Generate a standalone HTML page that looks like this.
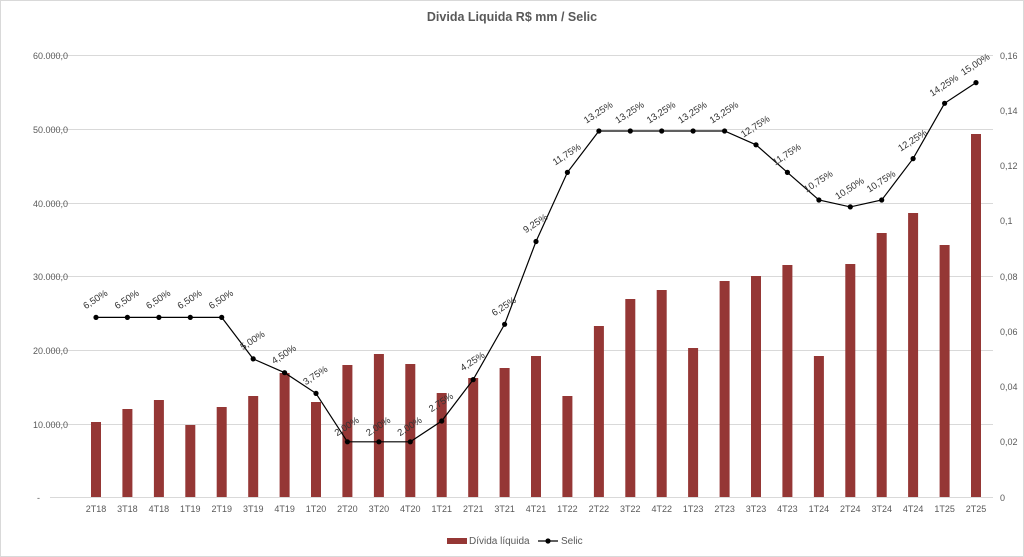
<!DOCTYPE html>
<html><head><meta charset="utf-8"><style>
body{margin:0;background:#fff}
svg{display:block;font-family:"Liberation Sans",sans-serif}
.ax{font-size:9px;fill:#595959}
.lb{font-size:9.5px;fill:#333}
</style></head><body>
<svg width="1024" height="557" viewBox="0 0 1024 557">
<rect x="0.5" y="0.5" width="1023" height="556" fill="#fff" stroke="#d9d9d9"/>
<text x="512" y="21" text-anchor="middle" font-size="12.5" font-weight="bold" fill="#595959">Divida Liquida R$ mm / Selic</text>
<g stroke="#d9d9d9" stroke-width="1">
<line x1="50" x2="993" y1="55.5" y2="55.5"/><line x1="50" x2="993" y1="129.5" y2="129.5"/><line x1="50" x2="993" y1="203.5" y2="203.5"/><line x1="50" x2="993" y1="276.5" y2="276.5"/><line x1="50" x2="993" y1="350.5" y2="350.5"/><line x1="50" x2="993" y1="424.5" y2="424.5"/><line x1="50" x2="993" y1="497.5" y2="497.5"/>
</g>
<g class="ax" text-anchor="end">
<text x="68" y="59">60.000,0</text><text x="68" y="133">50.000,0</text><text x="68" y="207">40.000,0</text><text x="68" y="280">30.000,0</text><text x="68" y="354">20.000,0</text><text x="68" y="428">10.000,0</text><text x="40" y="501">-</text>
</g>
<g class="ax">
<text x="1000" y="59">0,16</text><text x="1000" y="114">0,14</text><text x="1000" y="169">0,12</text><text x="1000" y="224">0,1</text><text x="1000" y="280">0,08</text><text x="1000" y="335">0,06</text><text x="1000" y="390">0,04</text><text x="1000" y="445">0,02</text><text x="1000" y="501">0</text>
</g>
<g fill="#953735">
<rect x="91" y="422" width="10" height="75"/>
<rect x="122.4" y="409" width="10" height="88"/>
<rect x="153.9" y="400" width="10" height="97"/>
<rect x="185.3" y="425" width="10" height="72"/>
<rect x="216.7" y="407" width="10" height="90"/>
<rect x="248.2" y="396" width="10" height="101"/>
<rect x="279.6" y="373" width="10" height="124"/>
<rect x="311" y="402" width="10" height="95"/>
<rect x="342.4" y="365" width="10" height="132"/>
<rect x="373.9" y="354" width="10" height="143"/>
<rect x="405.3" y="364" width="10" height="133"/>
<rect x="436.7" y="393" width="10" height="104"/>
<rect x="468.2" y="378" width="10" height="119"/>
<rect x="499.6" y="368" width="10" height="129"/>
<rect x="531" y="356" width="10" height="141"/>
<rect x="562.4" y="396" width="10" height="101"/>
<rect x="593.9" y="326" width="10" height="171"/>
<rect x="625.3" y="299" width="10" height="198"/>
<rect x="656.7" y="290" width="10" height="207"/>
<rect x="688.1" y="348" width="10" height="149"/>
<rect x="719.6" y="281" width="10" height="216"/>
<rect x="751" y="276" width="10" height="221"/>
<rect x="782.4" y="265" width="10" height="232"/>
<rect x="813.9" y="356" width="10" height="141"/>
<rect x="845.3" y="264" width="10" height="233"/>
<rect x="876.7" y="233" width="10" height="264"/>
<rect x="908.1" y="213" width="10" height="284"/>
<rect x="939.6" y="245" width="10" height="252"/>
<rect x="971" y="134" width="10" height="363"/>
</g>
<polyline fill="none" stroke="#000" stroke-width="1.2" points="96,317.4 127.4,317.4 158.9,317.4 190.3,317.4 221.7,317.4 253.2,358.9 284.6,372.7 316,393.4 347.4,441.8 378.9,441.8 410.3,441.8 441.7,421 473.2,379.6 504.6,324.3 536,241.5 567.4,172.4 598.9,131 630.3,131 661.7,131 693.1,131 724.6,131 756,144.8 787.4,172.4 818.9,200 850.3,206.9 881.7,200 913.1,158.6 944.6,103.3 976,82.6"/>
<g fill="#000">
<circle cx="96" cy="317.4" r="2.6"/><circle cx="127.4" cy="317.4" r="2.6"/><circle cx="158.9" cy="317.4" r="2.6"/><circle cx="190.3" cy="317.4" r="2.6"/><circle cx="221.7" cy="317.4" r="2.6"/><circle cx="253.2" cy="358.9" r="2.6"/><circle cx="284.6" cy="372.7" r="2.6"/><circle cx="316" cy="393.4" r="2.6"/><circle cx="347.4" cy="441.8" r="2.6"/><circle cx="378.9" cy="441.8" r="2.6"/><circle cx="410.3" cy="441.8" r="2.6"/><circle cx="441.7" cy="421" r="2.6"/><circle cx="473.2" cy="379.6" r="2.6"/><circle cx="504.6" cy="324.3" r="2.6"/><circle cx="536" cy="241.5" r="2.6"/><circle cx="567.4" cy="172.4" r="2.6"/><circle cx="598.9" cy="131" r="2.6"/><circle cx="630.3" cy="131" r="2.6"/><circle cx="661.7" cy="131" r="2.6"/><circle cx="693.1" cy="131" r="2.6"/><circle cx="724.6" cy="131" r="2.6"/><circle cx="756" cy="144.8" r="2.6"/><circle cx="787.4" cy="172.4" r="2.6"/><circle cx="818.9" cy="200" r="2.6"/><circle cx="850.3" cy="206.9" r="2.6"/><circle cx="881.7" cy="200" r="2.6"/><circle cx="913.1" cy="158.6" r="2.6"/><circle cx="944.6" cy="103.3" r="2.6"/><circle cx="976" cy="82.6" r="2.6"/>
</g>
<g class="lb" text-anchor="middle">
<text transform="translate(97,302) rotate(-33)">6,50%</text>
<text transform="translate(128.4,302) rotate(-33)">6,50%</text>
<text transform="translate(159.9,302) rotate(-33)">6,50%</text>
<text transform="translate(191.3,302) rotate(-33)">6,50%</text>
<text transform="translate(222.7,302) rotate(-33)">6,50%</text>
<text transform="translate(254.2,343) rotate(-33)">5,00%</text>
<text transform="translate(285.6,357) rotate(-33)">4,50%</text>
<text transform="translate(317,378) rotate(-33)">3,75%</text>
<text transform="translate(348.4,429) rotate(-33)">2,00%</text>
<text transform="translate(379.9,429) rotate(-33)">2,00%</text>
<text transform="translate(411.3,429) rotate(-33)">2,00%</text>
<text transform="translate(442.7,405) rotate(-33)">2,75%</text>
<text transform="translate(474.2,364) rotate(-33)">4,25%</text>
<text transform="translate(505.6,309) rotate(-33)">6,25%</text>
<text transform="translate(537,226) rotate(-33)">9,25%</text>
<text transform="translate(568.4,157) rotate(-33)">11,75%</text>
<text transform="translate(599.9,115) rotate(-33)">13,25%</text>
<text transform="translate(631.3,115) rotate(-33)">13,25%</text>
<text transform="translate(662.7,115) rotate(-33)">13,25%</text>
<text transform="translate(694.1,115) rotate(-33)">13,25%</text>
<text transform="translate(725.6,115) rotate(-33)">13,25%</text>
<text transform="translate(757,129) rotate(-33)">12,75%</text>
<text transform="translate(788.4,157) rotate(-33)">11,75%</text>
<text transform="translate(819.9,184) rotate(-33)">10,75%</text>
<text transform="translate(851.3,191) rotate(-33)">10,50%</text>
<text transform="translate(882.7,184) rotate(-33)">10,75%</text>
<text transform="translate(914.1,143) rotate(-33)">12,25%</text>
<text transform="translate(945.6,88) rotate(-33)">14,25%</text>
<text transform="translate(977,67) rotate(-33)">15,00%</text>
</g>
<g class="ax" text-anchor="middle">
<text x="96" y="512">2T18</text><text x="127.4" y="512">3T18</text><text x="158.9" y="512">4T18</text><text x="190.3" y="512">1T19</text><text x="221.7" y="512">2T19</text><text x="253.2" y="512">3T19</text><text x="284.6" y="512">4T19</text><text x="316" y="512">1T20</text><text x="347.4" y="512">2T20</text><text x="378.9" y="512">3T20</text><text x="410.3" y="512">4T20</text><text x="441.7" y="512">1T21</text><text x="473.2" y="512">2T21</text><text x="504.6" y="512">3T21</text><text x="536" y="512">4T21</text><text x="567.4" y="512">1T22</text><text x="598.9" y="512">2T22</text><text x="630.3" y="512">3T22</text><text x="661.7" y="512">4T22</text><text x="693.1" y="512">1T23</text><text x="724.6" y="512">2T23</text><text x="756" y="512">3T23</text><text x="787.4" y="512">4T23</text><text x="818.9" y="512">1T24</text><text x="850.3" y="512">2T24</text><text x="881.7" y="512">3T24</text><text x="913.1" y="512">4T24</text><text x="944.6" y="512">1T25</text><text x="976" y="512">2T25</text>
</g>
<rect x="447" y="538" width="20" height="6" fill="#953735"/>
<text x="469" y="544" font-size="10" fill="#595959">Dívida líquida</text>
<line x1="538" x2="558" y1="541" y2="541" stroke="#000" stroke-width="1.2"/>
<circle cx="548" cy="541" r="2.6" fill="#000"/>
<text x="561" y="544" font-size="10" fill="#595959">Selic</text>
</svg>
</body></html>
